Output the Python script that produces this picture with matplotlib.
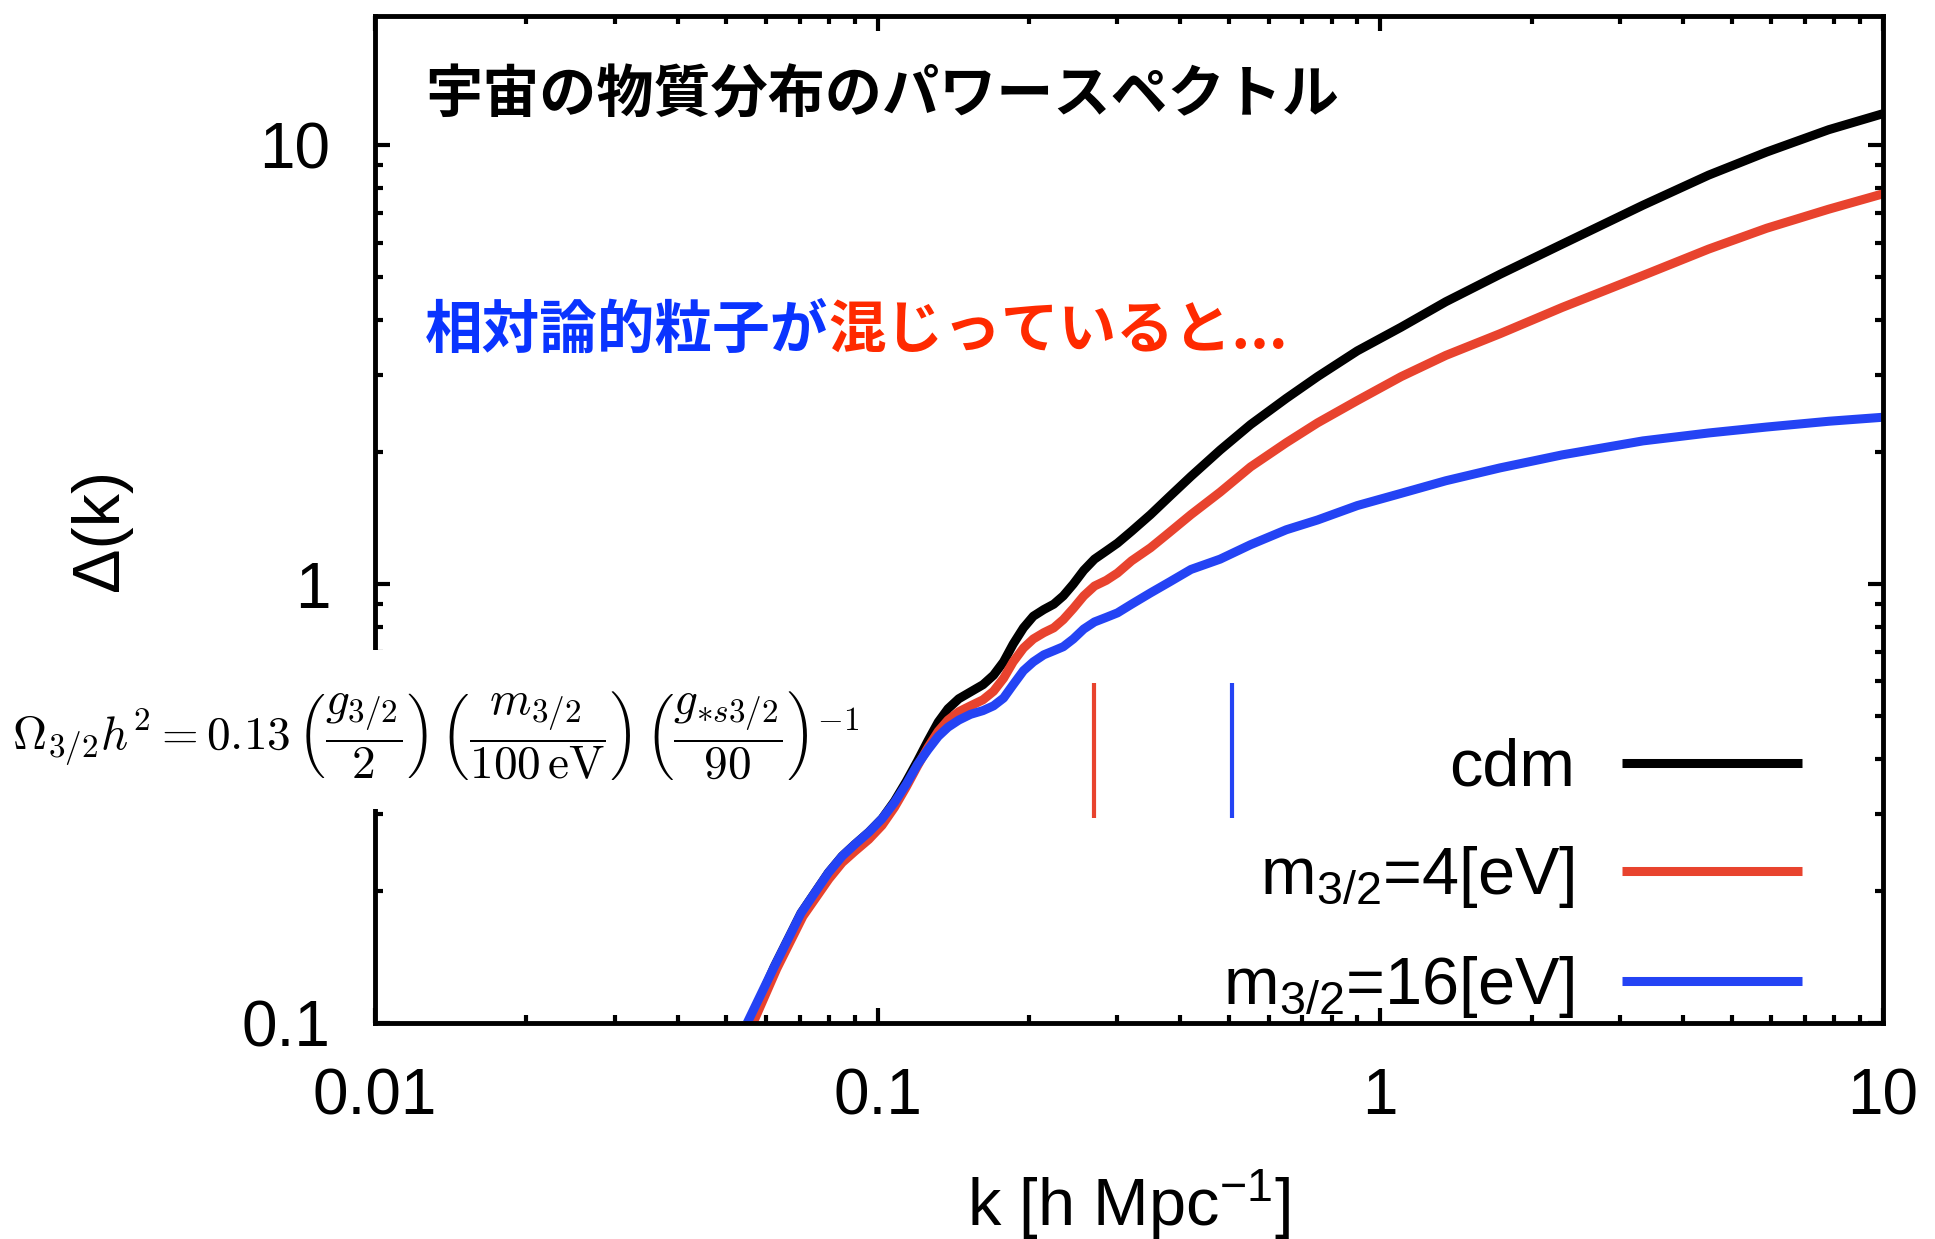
import numpy as np
import matplotlib
matplotlib.use('Agg')
import matplotlib.pyplot as plt
from matplotlib.patches import Rectangle

# k [h/Mpc] and Delta(k)
k_cdm = [0.0556, 0.0622, 0.0704, 0.0798, 0.085, 0.090, 0.096, 0.102, 0.108, 0.114,
         0.120, 0.126, 0.132, 0.138, 0.145, 0.153, 0.162, 0.170, 0.178, 0.186,
         0.195, 0.204, 0.214, 0.224, 0.234, 0.245, 0.257, 0.270, 0.285, 0.300,
         0.320, 0.349, 0.380, 0.420, 0.480, 0.552, 0.650, 0.750, 0.900, 1.10,
         1.35, 1.73, 2.30, 3.33, 4.50, 5.87, 7.80, 10.0]
d_cdm = [0.100, 0.134, 0.178, 0.220, 0.240, 0.255, 0.272, 0.292, 0.320, 0.355,
         0.395, 0.440, 0.485, 0.520, 0.548, 0.568, 0.590, 0.620, 0.665, 0.730,
         0.795, 0.845, 0.875, 0.900, 0.940, 1.000, 1.075, 1.140, 1.190, 1.240,
         1.320, 1.440, 1.580, 1.760, 2.020, 2.310, 2.650, 2.970, 3.400, 3.850,
         4.400, 5.080, 5.950, 7.300, 8.550, 9.650, 10.85, 11.8]

k_m4 = [0.0565, 0.0630, 0.0710, 0.080, 0.085, 0.090, 0.096, 0.102, 0.108, 0.114,
        0.120, 0.126, 0.132, 0.138, 0.145, 0.153, 0.162, 0.170, 0.178, 0.186,
        0.195, 0.204, 0.214, 0.224, 0.234, 0.245, 0.257, 0.270, 0.285, 0.300,
        0.320, 0.349, 0.380, 0.420, 0.480, 0.552, 0.650, 0.750, 0.900, 1.10,
        1.35, 1.73, 2.30, 3.33, 4.50, 5.87, 7.80, 10.0]
d_m4 = [0.100, 0.133, 0.175, 0.213, 0.232, 0.246, 0.262, 0.282, 0.310, 0.345,
        0.385, 0.425, 0.462, 0.490, 0.512, 0.528, 0.545, 0.570, 0.610, 0.665,
        0.715, 0.750, 0.775, 0.795, 0.830, 0.880, 0.940, 0.990, 1.020, 1.060,
        1.130, 1.210, 1.310, 1.440, 1.620, 1.850, 2.100, 2.330, 2.620, 2.970,
        3.320, 3.720, 4.270, 5.050, 5.800, 6.470, 7.150, 7.75]

k_m16 = [0.0550, 0.0622, 0.0704, 0.0798, 0.085, 0.090, 0.096, 0.102, 0.108, 0.114,
         0.120, 0.126, 0.132, 0.138, 0.145, 0.153, 0.162, 0.170, 0.178, 0.186,
         0.195, 0.204, 0.214, 0.224, 0.234, 0.245, 0.257, 0.270, 0.285, 0.300,
         0.320, 0.349, 0.380, 0.420, 0.480, 0.552, 0.650, 0.750, 0.900, 1.10,
         1.35, 1.73, 2.30, 3.33, 4.50, 5.87, 7.80, 10.0]
d_m16 = [0.100, 0.134, 0.178, 0.220, 0.240, 0.255, 0.272, 0.292, 0.318, 0.350,
         0.388, 0.420, 0.450, 0.472, 0.490, 0.505, 0.515, 0.528, 0.550, 0.590,
         0.635, 0.665, 0.690, 0.705, 0.720, 0.750, 0.790, 0.820, 0.840, 0.860,
         0.900, 0.955, 1.010, 1.080, 1.140, 1.230, 1.330, 1.400, 1.510, 1.610,
         1.720, 1.840, 1.970, 2.120, 2.210, 2.280, 2.350, 2.40]

# free-streaming scale markers
mark_k = [0.269, 0.507]
mark_lo, mark_hi = 0.293, 0.596

labels = ['cdm', r'm$_{3/2}$=4[eV]', r'm$_{3/2}$=16[eV]']
colors = ['black', '#e8432e', '#2443f4']

plt.rcParams['font.family'] = ['Liberation Sans', 'DejaVu Sans']
plt.rcParams['mathtext.fontset'] = 'custom'
plt.rcParams['mathtext.rm'] = 'Liberation Sans'
plt.rcParams['mathtext.it'] = 'Liberation Sans:italic'
plt.rcParams['mathtext.bf'] = 'Liberation Sans:bold'

fig = plt.figure(figsize=(19.35, 12.39), dpi=100)
ax = fig.add_axes([375 / 1935, 216 / 1239, 1508 / 1935, 1007 / 1239])

for kk, dd, lab, c in zip([k_cdm, k_m4, k_m16], [d_cdm, d_m4, d_m16], labels, colors):
    ax.plot(kk, dd, color=c, lw=6.5, label=lab, solid_capstyle='butt')

ax.vlines(mark_k, mark_lo, mark_hi, colors=colors[1:], lw=3)

ax.set_xscale('log')
ax.set_yscale('log')
ax.set_xlim(0.01, 10)
ax.set_ylim(0.1, 19.7)
ax.set_xticks([0.01, 0.1, 1, 10])
ax.set_xticklabels(['0.01', '0.1', '1', '10'])
ax.set_yticks([0.1, 1, 10])
ax.set_yticklabels(['0.1', '1', '10'])

for s in ax.spines.values():
    s.set_linewidth(3.5)
ax.tick_params(which='both', direction='in', top=True, right=True, width=3)
ax.tick_params(which='major', length=11, labelsize=46)
ax.tick_params(axis='x', which='major', pad=32)
ax.tick_params(axis='y', which='major', pad=32)
ax.tick_params(which='minor', length=6)

ax.set_xlabel(r'k [h Mpc$^{-1}$]', fontsize=48, va='center')
ax.xaxis.set_label_coords(0.5, -0.18)
ax.set_ylabel('Δ(k)', fontsize=48, va='center')
ax.yaxis.set_label_coords(-0.182, 0.49)

ax.legend(loc='lower right', bbox_to_anchor=(0.946, 0.003), frameon=False,
          markerfirst=False, fontsize=48, handlelength=2.7, handletextpad=0.7,
          labelspacing=0.66, borderpad=0, borderaxespad=0)

jp = ['Noto Sans CJK JP', 'DejaVu Sans']
ax.text(0.033, 0.921, '宇宙の物質分布のパワースペクトル', transform=ax.transAxes,
        fontsize=41.1, fontweight='bold', family=jp, va='center', ha='left')
t1 = ax.text(0.033, 0.687, '相対論的粒子が', transform=ax.transAxes, color='#0a34ff',
             fontsize=41.5, fontweight='bold', family=jp, va='center', ha='left')
ax.annotate('混じっていると...', xy=(1, 0.5), xycoords=t1, color='#ff2a00',
            fontsize=41.5, fontweight='bold', family=jp, va='center', ha='left')

# white patch interrupting the left spine behind the formula
fig.patches.append(Rectangle((340 / 1935, 430 / 1239), 70 / 1935, 159 / 1239,
                             transform=fig.transFigure, facecolor='white',
                             edgecolor='none', zorder=3))
fig.text(12 / 1935, 1 - 736 / 1239,
         r'$\Omega_{3/2}h^2 = 0.13\,\left(\dfrac{g_{3/2}}{2}\right)\,\left(\dfrac{m_{3/2}}{100\,\mathrm{eV}}\right)\,\left(\dfrac{g_{*s3/2}}{90}\right)^{-1}$',
         math_fontfamily='cm', fontsize=34, ha='left', va='center', zorder=4)

fig.savefig('out.png', dpi=100)
